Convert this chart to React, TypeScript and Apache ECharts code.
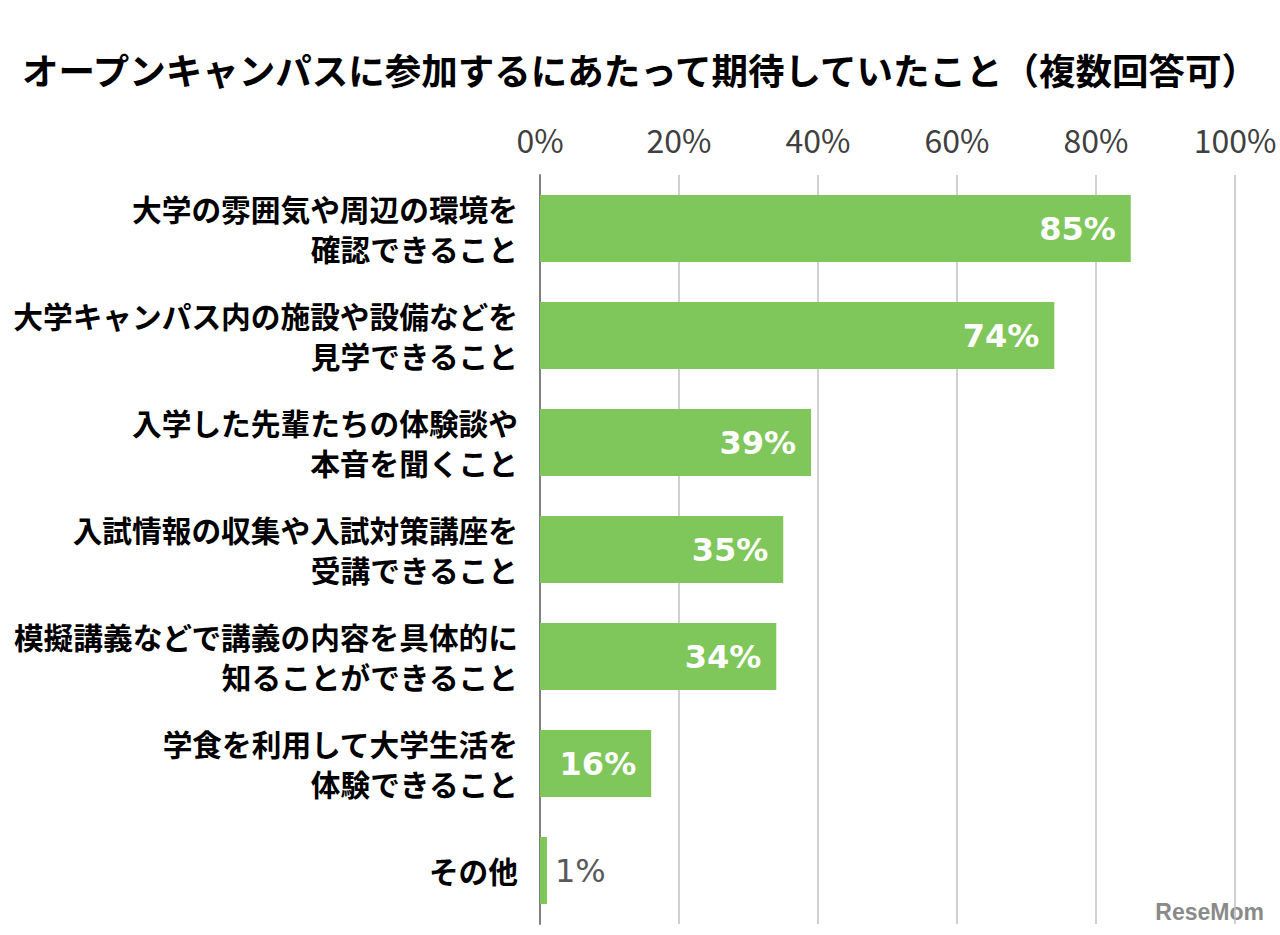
import React, { useEffect, useRef } from "react";
import * as echarts from "echarts";

const titleText = "オープンキャンパスに参加するにあたって期待していたこと（複数回答可）";

const categories = [
  "大学の雰囲気や周辺の環境を\n確認できること",
  "大学キャンパス内の施設や設備などを\n見学できること",
  "入学した先輩たちの体験談や\n本音を聞くこと",
  "入試情報の収集や入試対策講座を\n受講できること",
  "模擬講義などで講義の内容を具体的に\n知ることができること",
  "学食を利用して大学生活を\n体験できること",
  "その他",
];

const values = [85, 74, 39, 35, 34, 16, 1];

const BAR_COLOR = "#7fc65b";
const JP_FONT = "'Noto Sans CJK JP', 'Noto Sans', sans-serif";

export default function App() {
  const ref = useRef<HTMLDivElement>(null);

  useEffect(() => {
    if (!ref.current) return;
    const chart = echarts.init(ref.current, undefined, { renderer: "svg" });

    const seriesData = values.map((v) => {
      if (v < 5) {
        return {
          value: v,
          label: {
            show: true,
            position: "right",
            distance: 8,
            color: "#595959",
            fontWeight: "normal",
            fontFamily: "DejaVu Sans",
            fontSize: 32,
            formatter: "{c}%",
          },
        };
      }
      return { value: v };
    });

    chart.setOption({
      animation: false,
      backgroundColor: "#ffffff",
      title: {
        text: titleText,
        left: "center",
        top: 46,
        textStyle: {
          fontFamily: JP_FONT,
          fontWeight: "bold",
          fontSize: 36.5,
          color: "#000000",
        },
      },
      grid: { left: 540, right: 45, top: 175, bottom: 11, containLabel: false },
      xAxis: {
        type: "value",
        position: "top",
        min: 0,
        max: 100,
        interval: 20,
        axisLine: { show: false },
        axisTick: { show: false },
        splitLine: { show: true, lineStyle: { color: "#c0c0c0", width: 1.5 } },
        axisLabel: {
          formatter: "{value}%",
          fontFamily: JP_FONT,
          fontSize: 32,
          color: "#404040",
          margin: 20,
        },
      },
      yAxis: {
        type: "category",
        data: categories,
        inverse: true,
        axisLine: { show: true, lineStyle: { color: "#808080", width: 2 } },
        axisTick: { show: false },
        axisLabel: {
          fontFamily: JP_FONT,
          fontWeight: "bold",
          fontSize: 29.7,
          lineHeight: 40,
          color: "#000000",
          align: "right",
          margin: 22,
        },
      },
      series: [
        {
          type: "bar",
          data: seriesData,
          barWidth: 67,
          itemStyle: { color: BAR_COLOR },
          z: 1,
          label: {
            show: true,
            position: "insideRight",
            distance: 15,
            color: "#ffffff",
            fontFamily: "DejaVu Sans",
            fontWeight: "bold",
            fontSize: 32,
            formatter: "{c}%",
          },
        },
      ],
      graphic: [
        {
          type: "text",
          right: 16,
          bottom: 12,
          style: {
            text: "ReseMom",
            fontFamily: "'Liberation Sans', sans-serif",
            fontWeight: "bold",
            fontSize: 23,
            fill: "#8a8a8a",
          },
        },
      ],
    });

    return () => chart.dispose();
  }, []);

  return (
    <div
      ref={ref}
      style={{ position: "absolute", left: 0, top: 0, width: 1280, height: 935 }}
    />
  );
}
